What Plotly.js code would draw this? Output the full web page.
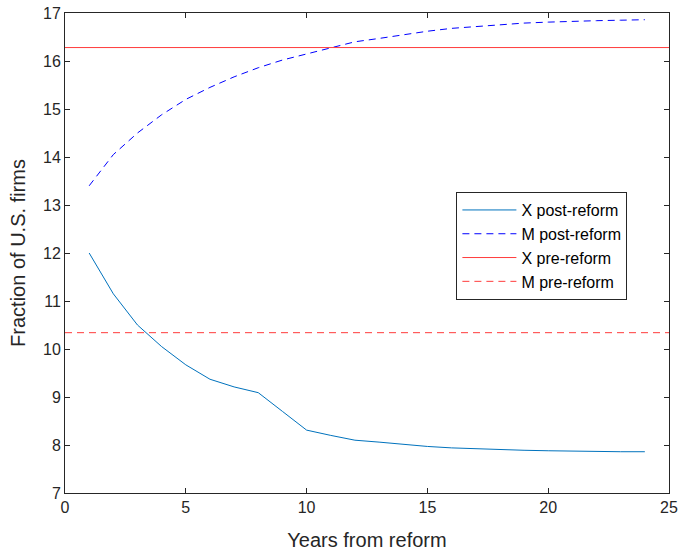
<!DOCTYPE html>
<html>
<head>
<meta charset="utf-8">
<script src="https://cdn.plot.ly/plotly-3.0.1.min.js"></script>
<style>html,body{margin:0;padding:0;background:#fff;}#chart{width:685px;height:552px;}</style>
</head>
<body>
<div id="chart"></div>
<script>
const years = [1,2,3,4,5,6,7,8,9,10,11,12,13,14,15,16,17,18,19,20,21,22,23,24];
const xPost = [12.0,11.15,10.5,10.05,9.67,9.37,9.21,9.09,8.70,8.31,8.20,8.10,8.06,8.01,7.97,7.94,7.92,7.90,7.89,7.88,7.87,7.86,7.86,7.86];
const mPost = [13.4,14.05,14.5,14.88,15.2,15.45,15.67,15.86,16.02,16.15,16.27,16.4,16.47,16.55,16.62,16.68,16.72,16.76,16.79,16.81,16.83,16.84,16.85,16.86];
const preRange = [0,25];
const xPre = 16.28;
const mPre = 10.34;
const names = ['X post-reform','M post-reform','X pre-reform','M pre-reform'];

const traces = [
  {x: years, y: xPost, name: names[0], mode:'lines', line:{color:'#0072BD', width:1}},
  {x: years, y: mPost, name: names[1], mode:'lines', line:{color:'#0000FF', width:1, dash:'7px,5px'}},
  {x: preRange, y: [xPre,xPre], name: names[2], mode:'lines', line:{color:'#FF3B3B', width:1}},
  {x: preRange, y: [mPre,mPre], name: names[3], mode:'lines', line:{color:'#FF3B3B', width:1, dash:'7px,5px'}}
];

const axisCommon = {
  showgrid:false, zeroline:false, showline:true, linecolor:'#262626', linewidth:1,
  mirror:'ticks', ticks:'inside', ticklen:5, tickcolor:'#262626',
  tickfont:{family:'Liberation Sans, Arial, sans-serif', size:16, color:'#262626'}
};

const layout = {
  width:685, height:552,
  margin:{l:65, r:16, t:13, b:59},
  paper_bgcolor:'#fff', plot_bgcolor:'#fff',
  font:{family:'Liberation Sans, Arial, sans-serif', color:'#262626'},
  xaxis: Object.assign({}, axisCommon, {range:[0,25], tickvals:[0,5,10,15,20,25],
    title:{text:'Years from reform', font:{size:20, color:'#262626'}, standoff:17}}),
  yaxis: Object.assign({}, axisCommon, {range:[7,17], tickvals:[7,8,9,10,11,12,13,14,15,16,17],
    title:{text:'Fraction of U.S. firms', font:{size:20, color:'#262626'}, standoff:12}}),
  showlegend:true,
  legend:{x:0.648, y:0.627, xanchor:'left', yanchor:'top', bgcolor:'#fff',
    bordercolor:'#262626', borderwidth:1, font:{size:16, color:'#000'},
    tracegroupgap:0, itemwidth:54}
};

Plotly.newPlot('chart', traces, layout, {displayModeBar:false, staticPlot:true});
</script>
</body>
</html>
